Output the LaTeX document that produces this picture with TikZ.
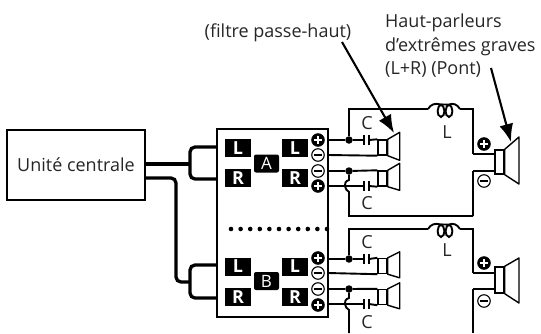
\documentclass[tikz,border=0pt]{standalone}
\usepackage{fontspec}
\setmainfont{Open Sans}
\usetikzlibrary{arrows.meta}
\tikzset{
  wire/.style={line width=1.9pt},
  cable/.style={line width=3.3pt,rounded corners=5pt},
  plate/.style={line width=2pt},
  pointer/.style={line width=2.1pt,-{Latex[length=18pt,width=14pt]}},
  box/.style={draw,line width=1.4pt,fill=white,inner sep=0pt},
  txt/.style={font=\fontsize{18}{23.8}\selectfont,inner sep=0pt,text=black!85},
  badge/.style={fill=black,text=white,font=\fontsize{18}{18}\selectfont\bfseries,minimum width=26pt,minimum height=18pt,inner sep=0pt},
  unitbadge/.style={badge,rounded corners=2pt,minimum width=25pt,font=\fontsize{17}{17}\selectfont},
  plusterm/.style={circle,fill=black,draw=black,line width=1pt,minimum size=12.5pt,inner sep=0pt,path picture={
    \draw[white,line width=2.2pt] ([xshift=-3.8pt]path picture bounding box.center) -- ([xshift=3.8pt]path picture bounding box.center);
    \draw[white,line width=2.2pt] ([yshift=-3.8pt]path picture bounding box.center) -- ([yshift=3.8pt]path picture bounding box.center);}},
  minusterm/.style={circle,fill=white,draw=black,line width=1.1pt,minimum size=12.5pt,inner sep=0pt,path picture={
    \draw[black,line width=1.6pt] ([xshift=-4pt]path picture bounding box.center) -- ([xshift=4pt]path picture bounding box.center);}},
  joint/.style={circle,fill=black,minimum size=7.5pt,inner sep=0pt},
  spk/.style={draw,fill=white,line width=1.4pt,inner sep=0pt,minimum width=9pt,minimum height=15pt},
  woofer/.style={spk,minimum height=24pt},
  cone/.style={line width=1.4pt,fill=white,line join=round}
}

\begin{document}
\begin{tikzpicture}[x=1pt,y=-1pt]
  \useasboundingbox (0,0) rectangle (541,333);
  %labels
  \node[txt] (filtre) at (278,33) {(filtre passe-haut)};
  \node[txt,align=left,anchor=north west] (subs) at (385,13.5) {Haut-parleurs\\d'extrêmes graves\\(L+R) (Pont)};

  %central unit and amplifier
  \node[box,minimum width=138pt,minimum height=70pt,txt] (unit) at (76,165) {Unité centrale};
  \node[box,minimum width=111pt,minimum height=188pt] (amp) at (272.5,223) {};
  \coordinate (u1) at (145,164);
  \coordinate (u2) at (145,178);
  \coordinate (joina) at (190,164);
  \coordinate (ina1) at (217,147);
  \coordinate (ina2) at (217,179);
  \coordinate (turn) at (176,282);
  \coordinate (joinb) at (190,282);
  \coordinate (inb1) at (217,265);
  \coordinate (inb2) at (217,298);
  \draw[cable] (u1) -- (joina);
  \draw[cable] (ina1) -| (joina) |- (ina2);
  \draw[cable] (u2) -| (turn) -- (joinb);
  \draw[cable] (inb1) -| (joinb) |- (inb2);
  \coordinate (dots1) at (231,229);
  \coordinate (dots2) at (327,229);
  \draw[line width=4.6pt,line cap=round,dash pattern=on 0pt off 9.6pt] (dots1) -- (dots2);

  %badges
  \node[badge] (la1) at (238,148) {L};
  \node[badge] (ra1) at (238,178) {R};
  \node[unitbadge] (ua) at (266.5,163.5) {A};
  \node[badge] (la2) at (295,148) {L};
  \node[badge] (ra2) at (295,178) {R};
  \node[badge] (lb1) at (238,266.5) {L};
  \node[badge] (rb1) at (238,297) {R};
  \node[unitbadge] (ub) at (266.5,281) {B};
  \node[badge] (lb2) at (295,266.5) {L};
  \node[badge] (rb2) at (295,297) {R};

  %terminals
  \node[plusterm] (ap1) at (318,140) {};
  \node[minusterm] (am1) at (318,155) {};
  \node[minusterm] (am2) at (318,171) {};
  \node[plusterm] (ap2) at (318,186) {};
  \node[plusterm] (bp1) at (318,258) {};
  \node[minusterm] (bm1) at (318,273) {};
  \node[minusterm] (bm2) at (318,289) {};
  \node[plusterm] (bp2) at (318,305) {};

  %upper speakers
  \node[spk] (sa1) at (382.5,147.5) {};
  \node[spk] (sa2) at (382.5,178.5) {};
  \draw[cone] (sa1.north east) -- ++(12,-7) -- ++(0,28) -- (sa1.south east) -- cycle;
  \draw[cone] (sa2.north east) -- ++(12,-7) -- ++(0,27) -- (sa2.south east) -- cycle;
  \node[joint] (ja1) at (349,140) {};
  \node[joint] (ja2) at (349,171) {};
  \coordinate (aout1) at (328,140);
  \coordinate (aout2) at (328,155);
  \coordinate (aout3) at (328,171);
  \coordinate (aout4) at (328,186);
  \coordinate (ca1) at (364,140);
  \coordinate (cc1) at (369,140);
  \coordinate (ca2) at (364,186);
  \coordinate (cc2) at (369,186);
  \draw[wire] (aout1) -- (ja1) -- (ca1);
  \draw[wire] (cc1) -- (sa1.north west);
  \draw[wire] (aout2) -- (sa1.south west);
  \draw[wire] (aout3) -- (ja2) -- (sa2.north west);
  \draw[wire] (aout4) -- (ca2);
  \draw[wire] (cc2) -- (sa2.south west);
  \draw[plate] ([yshift=-5pt]ca1) -- ([yshift=5pt]ca1);
  \draw[plate] ([yshift=-5pt]cc1) -- ([yshift=5pt]cc1);
  \draw[plate] ([yshift=-5pt]ca2) -- ([yshift=5pt]ca2);
  \draw[plate] ([yshift=-5pt]cc2) -- ([yshift=5pt]cc2);

  %upper loop with inductor
  \coordinate (ta) at (349,109);
  \coordinate (la) at (428,109);
  \coordinate (ra) at (460,109);
  \coordinate (ea) at (473,109);
  \coordinate (wa1) at (473,154);
  \coordinate (wa2) at (473,171);
  \coordinate (ba) at (473,216);
  \coordinate (ha) at (349,216);
  \coordinate (ha1) at (349,180);
  \coordinate (ha2) at (349,192);
  \node[woofer] (wa) at (499.5,162) {};
  \draw[cone] (wa.north east) -- (519,137) -- (519,184) -- (wa.south east) -- cycle;
  \draw[wire] (ja1) -- (ta) -- (la);
  \draw[wire] (la) .. controls (431,104) and (435,103) .. (441,104.5) .. controls (437,106) and (436,116) .. (441,117) .. controls (446,116) and (445,106) .. (441,104.5);
  \draw[wire] (ra) .. controls (457,104) and (453,103) .. (449,104.5) .. controls (453,106) and (454,116) .. (449,117) .. controls (444,116) and (445,106) .. (449,104.5) -- (441,104.5);
  \draw[wire] (ra) -- (ea) -- (wa1);
  \draw[wire] (wa1) -- (wa1 -| wa.west);
  \draw[wire] (ba) -- (wa2);
  \draw[wire] (wa2) -- (wa2 -| wa.west);
  \draw[wire] (ba) -- (ha) -- (ha2) .. controls (345,190) and (342,182) .. (ha1) -- (ja2);
  \node[plusterm] (wap) at (484,144) {};
  \node[minusterm] (wam) at (484,181) {};

  %lower speakers
  \node[spk] (sb1) at (382.5,266) {};
  \node[spk] (sb2) at (382.5,297) {};
  \draw[cone] (sb1.north east) -- ++(12,-6) -- ++(0,26) -- (sb1.south east) -- cycle;
  \draw[cone] (sb2.north east) -- ++(12,-6) -- ++(0,26) -- (sb2.south east) -- cycle;
  \node[joint] (jb1) at (349,259) {};
  \node[joint] (jb2) at (349,289) {};
  \coordinate (bout1) at (328,259);
  \coordinate (bout2) at (328,273);
  \coordinate (bout3) at (328,289);
  \coordinate (bout4) at (328,304);
  \coordinate (cb1) at (364,259);
  \coordinate (cd1) at (369,259);
  \coordinate (cb2) at (364,304);
  \coordinate (cd2) at (369,304);
  \draw[wire] (bout1) -- (jb1) -- (cb1);
  \draw[wire] (cd1) -- (sb1.north west);
  \draw[wire] (bout2) -- (sb1.south west);
  \draw[wire] (bout3) -- (jb2) -- (sb2.north west);
  \draw[wire] (bout4) -- (cb2);
  \draw[wire] (cd2) -- (sb2.south west);
  \draw[plate] ([yshift=-5pt]cb1) -- ([yshift=5pt]cb1);
  \draw[plate] ([yshift=-5pt]cd1) -- ([yshift=5pt]cd1);
  \draw[plate] ([yshift=-5pt]cb2) -- ([yshift=5pt]cb2);
  \draw[plate] ([yshift=-5pt]cd2) -- ([yshift=5pt]cd2);

  %lower loop with inductor
  \coordinate (tb) at (349,229);
  \coordinate (lb) at (428,229);
  \coordinate (rb) at (460,229);
  \coordinate (eb) at (473,229);
  \coordinate (wb1) at (473,273);
  \coordinate (wb2) at (473,289);
  \coordinate (bb) at (473,333);
  \coordinate (hb) at (349,333);
  \coordinate (hb1) at (349,298);
  \coordinate (hb2) at (349,310);
  \node[woofer,minimum height=26pt] (wb) at (499.5,280) {};
  \draw[cone] (wb.north east) -- (519,258) -- (519,303) -- (wb.south east) -- cycle;
  \draw[wire] (jb1) -- (tb) -- (lb);
  \draw[wire] (lb) .. controls (431,224) and (435,223) .. (441,224.5) .. controls (437,226) and (436,236) .. (441,237) .. controls (446,236) and (445,226) .. (441,224.5);
  \draw[wire] (rb) .. controls (457,224) and (453,223) .. (449,224.5) .. controls (453,226) and (454,236) .. (449,237) .. controls (444,236) and (445,226) .. (449,224.5) -- (441,224.5);
  \draw[wire] (rb) -- (eb) -- (wb1);
  \draw[wire] (wb1) -- (wb1 -| wb.west);
  \draw[wire] (bb) -- (wb2);
  \draw[wire] (wb2) -- (wb2 -| wb.west);
  \draw[wire] (hb) -- (hb2) .. controls (345,308) and (342,300) .. (hb1) -- (jb2);
  \node[plusterm] (wbp) at (484,263) {};
  \node[minusterm] (wbm) at (484,301) {};

  %part names
  \node[txt] (c1) at (367,123) {C};
  \node[txt] (c2) at (367,203) {C};
  \node[txt] (c3) at (367,242) {C};
  \node[txt] (c4) at (367,322) {C};
  \node[txt] (l1) at (447,132) {L};
  \node[txt] (l2) at (447,250) {L};

  %pointers
  \coordinate (p1) at (342,42);
  \coordinate (p1e) at (394,133);
  \coordinate (p2) at (491,68);
  \coordinate (p2e) at (511,142);
  \draw[pointer] (p1) -- (p1e);
  \draw[pointer] (p2) -- (p2e);
\end{tikzpicture}
\end{document}
